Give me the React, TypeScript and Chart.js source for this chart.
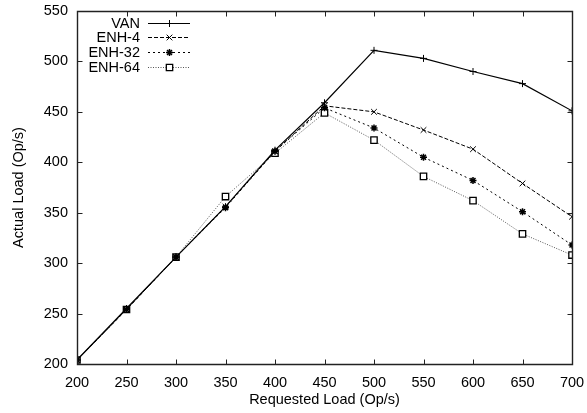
import { useEffect, useRef } from "react";
import { Chart, registerables } from "chart.js";
import { drawPoint } from "chart.js/helpers";

Chart.register(...registerables);

const requestedLoad = [200, 250, 300, 350, 400, 450, 500, 550, 600, 650, 700];
const vanLoad = [204, 255, 306, 356, 412, 459, 511, 503, 490, 478, 451];
const enh4Load = [204, 254, 306, 356, 411, 456, 450, 432, 413, 379, 346];
const enh32Load = [204, 254, 306, 355, 411, 454, 434, 405, 382, 351, 318];
const enh64Load = [204, 254, 306, 366, 409, 449, 422, 386, 362, 329, 308];

const seriesNames = ["VAN", "ENH-4", "ENH-32", "ENH-64"];
const xTickValues = [200, 250, 300, 350, 400, 450, 500, 550, 600, 650, 700];
const yTickValues = [200, 250, 300, 350, 400, 450, 500, 550];

const FONT = "'Liberation Sans', Arial, sans-serif";
const AXIS_COLOR = "#222";

function drawFrame(chart: any) {
  const ctx = chart.ctx as CanvasRenderingContext2D;
  const a = chart.chartArea;
  const sx = chart.scales.x;
  const sy = chart.scales.y;
  const L = Math.round(a.left) + 0.5;
  const R = Math.round(a.right) + 0.5;
  const T = Math.round(a.top) + 0.5;
  const B = Math.round(a.bottom) + 0.5;
  const tl = 5;
  ctx.save();
  ctx.setLineDash([]);
  ctx.strokeStyle = AXIS_COLOR;
  ctx.lineWidth = 1.4;
  ctx.beginPath();
  ctx.moveTo(L, T);
  ctx.lineTo(R, T);
  ctx.lineTo(R, B);
  ctx.lineTo(L, B);
  ctx.closePath();
  ctx.stroke();
  ctx.lineWidth = 1;
  ctx.beginPath();
  for (const v of xTickValues) {
    const x = Math.round(sx.getPixelForValue(v)) + 0.5;
    ctx.moveTo(x, B);
    ctx.lineTo(x, B - tl);
    ctx.moveTo(x, T);
    ctx.lineTo(x, T + tl);
  }
  for (const v of yTickValues) {
    const y = Math.round(sy.getPixelForValue(v)) + 0.5;
    ctx.moveTo(L, y);
    ctx.lineTo(L + tl, y);
    ctx.moveTo(R, y);
    ctx.lineTo(R - tl, y);
  }
  ctx.stroke();
  ctx.restore();
}

function drawLegend(chart: any) {
  const { ctx } = chart;
  const rows = [22.7, 37, 52, 66.5];
  ctx.save();
  ctx.font = `14.5px ${FONT}`;
  ctx.textAlign = "right";
  ctx.textBaseline = "middle";
  chart.data.datasets.forEach((ds: any, i: number) => {
    const y = rows[i];
    ctx.fillStyle = "#000";
    ctx.fillText(ds.label, 140, y + 1);
    ctx.save();
    ctx.strokeStyle = ds.borderColor;
    ctx.lineWidth = ds.borderWidth;
    ctx.setLineDash(ds.borderDash || []);
    ctx.beginPath();
    ctx.moveTo(148, Math.round(y) + 0.5);
    ctx.lineTo(190, Math.round(y) + 0.5);
    ctx.stroke();
    ctx.restore();
    ctx.save();
    ctx.fillStyle = ds.pointBackgroundColor;
    ctx.strokeStyle = ds.pointBorderColor;
    ctx.lineWidth = ds.pointBorderWidth;
    ctx.setLineDash([]);
    drawPoint(
      ctx,
      { pointStyle: ds.pointStyle, rotation: 0, radius: ds.pointRadius, borderWidth: ds.pointBorderWidth } as any,
      169.5,
      Math.round(y) + 0.5
    );
    ctx.restore();
  });
  ctx.restore();
}

const overlayPlugin = {
  id: "gnuoverlay",
  afterDraw(chart: any) {
    drawFrame(chart);
    drawLegend(chart);
  },
};

export default function App() {
  const ref = useRef<HTMLCanvasElement>(null);
  useEffect(() => {
    if (!ref.current) return;
    const mk = (vals: number[]) => requestedLoad.map((x, i) => ({ x, y: vals[i] }));
    const chart = new Chart(ref.current, {
      type: "line",
      data: {
        datasets: [
          {
            label: seriesNames[0],
            data: mk(vanLoad),
            borderColor: "#000",
            borderWidth: 1.2,
            pointStyle: "cross",
            pointRadius: 3.5,
            pointBorderWidth: 1,
            pointBorderColor: "#000",
            pointBackgroundColor: "#000",
          },
          {
            label: seriesNames[1],
            data: mk(enh4Load),
            borderColor: "#000",
            borderWidth: 1,
            borderDash: [4, 2],
            pointStyle: "crossRot",
            pointRadius: 4,
            pointBorderWidth: 1,
            pointBorderColor: "#000",
            pointBackgroundColor: "#000",
          },
          {
            label: seriesNames[2],
            data: mk(enh32Load),
            borderColor: "#000",
            borderWidth: 1,
            borderDash: [2, 3],
            pointStyle: "star",
            pointRadius: 3.5,
            pointBorderWidth: 1.5,
            pointBorderColor: "#000",
            pointBackgroundColor: "#000",
          },
          {
            label: seriesNames[3],
            data: mk(enh64Load),
            borderColor: "#555",
            borderWidth: 1,
            borderDash: [1, 1.5],
            pointStyle: "rect",
            pointRadius: 4.5,
            pointBorderWidth: 1.3,
            pointBorderColor: "#000",
            pointBackgroundColor: "#fff",
          },
        ],
      },
      options: {
        animation: false,
        responsive: false,
        maintainAspectRatio: false,
        layout: { padding: { top: 11, right: 15, left: 0, bottom: 0 } },
        plugins: { legend: { display: false }, tooltip: { enabled: false } },
        elements: { line: { tension: 0 } },
        scales: {
          x: {
            type: "linear",
            min: 200,
            max: 700,
            afterFit: (s: any) => {
              s.height = 49;
              s.paddingLeft = 0;
              s.paddingRight = 0;
            },
            afterBuildTicks: (s: any) => {
              s.ticks = xTickValues.map((v) => ({ value: v }));
            },
            grid: { display: false, drawTicks: false },
            border: { display: false },
            ticks: { color: "#000", padding: 10, maxRotation: 0, font: { family: FONT, size: 14.5 } },
            title: {
              display: true,
              text: "Requested Load (Op/s)",
              color: "#000",
              font: { family: FONT, size: 14.5 },
              padding: { top: 0, bottom: 4 },
            },
          },
          y: {
            type: "linear",
            min: 200,
            max: 550,
            afterFit: (s: any) => {
              s.width = 77;
              s.paddingTop = 0;
              s.paddingBottom = 0;
            },
            afterBuildTicks: (s: any) => {
              s.ticks = yTickValues.map((v) => ({ value: v }));
            },
            grid: { display: false, drawTicks: false },
            border: { display: false },
            ticks: { color: "#000", padding: 9, font: { family: FONT, size: 14.5 } },
            title: {
              display: true,
              text: "Actual Load (Op/s)",
              color: "#000",
              font: { family: FONT, size: 14.5 },
              padding: { top: 10, bottom: 0 },
            },
          },
        },
      },
      plugins: [overlayPlugin],
    });
    return () => chart.destroy();
  }, []);
  return (
    <div style={{ position: "fixed", left: 0, top: 0, width: 587, height: 413, background: "#fff" }}>
      <canvas ref={ref} width={587} height={413} style={{ width: 587, height: 413 }} />
    </div>
  );
}
